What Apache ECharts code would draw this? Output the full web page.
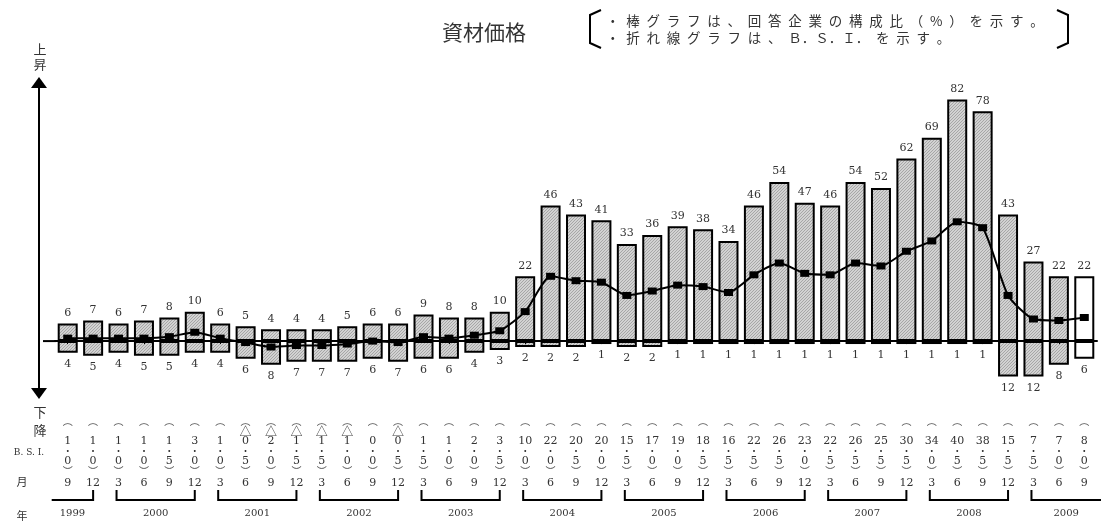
<!DOCTYPE html>
<html>
<head>
<meta charset="utf-8">
<script src="https://cdn.jsdelivr.net/npm/echarts@6/dist/echarts.min.js"></script>
<style>
html, body { margin: 0; padding: 0; background: #fff; }
#main { width: 1101px; height: 521px; }
</style>
</head>
<body>
<div id="main"></div>
<script>
// 調査時点（年・月）
const years = [1999, 1999,
	2000, 2000, 2000, 2000,
	2001, 2001, 2001, 2001,
	2002, 2002, 2002, 2002,
	2003, 2003, 2003, 2003,
	2004, 2004, 2004, 2004,
	2005, 2005, 2005, 2005,
	2006, 2006, 2006, 2006,
	2007, 2007, 2007, 2007,
	2008, 2008, 2008, 2008,
	2009, 2009, 2009]
const months = [9, 12,
	3, 6, 9, 12, 3, 6, 9, 12, 3, 6, 9, 12, 3, 6, 9, 12,
	3, 6, 9, 12, 3, 6, 9, 12, 3, 6, 9, 12, 3, 6, 9, 12,
	3, 6, 9, 12,
	3, 6, 9]
// 上昇（%）
const upper = [6, 7, 6, 7, 8, 10, 6, 5, 4, 4, 4, 5, 6, 6, 9, 8, 8, 10,
	22, 46, 43, 41, 33, 36, 39, 38, 34, 46, 54, 47, 46, 54, 52, 62,
	69, 82, 78, 43, 27, 22, 22]
// 下降（%）
const lower = [4, 5, 4, 5, 5, 4, 4, 6, 8, 7, 7, 7, 6, 7, 6, 6, 4, 3,
	2, 2, 2, 1, 2, 2, 1, 1, 1, 1, 1, 1, 1, 1, 1, 1,
	1, 1, 1, 12, 12, 8, 6]
// B.S.I.
const bsi = [1.0, 1.0, 1.0, 1.0, 1.5, 3.0, 1.0, -0.5, -2.0, -1.5,
	-1.5, -1.0, 0.0, -0.5, 1.5, 1.0, 2.0, 3.5,
	10.0, 22.0, 20.5, 20.0, 15.5, 17.0, 19.0, 18.5,
	16.5, 22.5, 26.5, 23.0, 22.5, 26.5, 25.5, 30.5,
	34.0, 40.5, 38.5, 15.5, 7.5, 7.0, 8.0]
// 見通し（最終期）
const forecastIndex = 40

const categories = years.map((y, i) => y + "/" + months[i])

const chart = echarts.init(document.getElementById("main"))

// 斜線ハッチ
const hatch = document.createElement("canvas")
hatch.width = 3
hatch.height = 3
const g = hatch.getContext("2d")
g.fillStyle = "#d2d2d2"
g.fillRect(0, 0, 3, 3)
g.fillStyle = "#a6a6a6"
g.fillRect(2, 0, 1, 1)
g.fillRect(1, 1, 1, 1)
g.fillRect(0, 2, 1, 1)
const hatchFill = { image: hatch, repeat: "repeat" }

const NUM_FONT = "DejaVu Serif"
const JP_FONT = "Noto Sans CJK JP"

// 字間をあける
const spaced = (s) => s.split("").join("\u2002")

// 年ごとの括弧
const yearGroups = []
years.forEach((y, i) => {
	const last = yearGroups[yearGroups.length - 1]
	if (last && last[2] === y) {
		last[1] = i
	} else {
		yearGroups.push([i, i, y])
	}
})
yearGroups.forEach((grp) => {
	grp.push(months[grp[0]] !== 3 ? 1 : 0)
	grp.push(months[grp[1]] !== 12 ? 1 : 0)
})

const barStyle = (i) => ({
	color: i === forecastIndex ? "#fff" : hatchFill,
	borderColor: "#000",
	borderWidth: 2
})

const tableLabel = (value, idx) => {
	const v = bsi[idx]
	const a = Math.abs(v)
	const ip = Math.floor(a + 1e-9)
	const dp = Math.round((a - ip) * 10)
	return [
		"{p|︵}",
		v < 0 ? "{t|△}" : "{t| }",
		"{n|" + ip + "}",
		"{d|・}",
		"{n|" + dp + "}",
		"{p|︶}",
		"{m|" + months[idx] + "}"
	].join("\n")
}

const option = {
	backgroundColor: "#fff",
	animation: false,
	grid: {
		left: 55,
		right: 4,
		top: 76,
		bottom: 121
	},
	xAxis: [
		{
			type: "category",
			data: categories,
			position: "bottom",
			axisLine: { show: false, onZero: false },
			axisTick: { show: false },
			axisLabel: {
				interval: 0,
				margin: 16,
				formatter: tableLabel,
				rich: {
					p: { fontFamily: JP_FONT, fontSize: 10, lineHeight: 10, color: "#555" },
					t: { fontFamily: JP_FONT, fontSize: 12, lineHeight: 10, color: "#444" },
					n: { fontFamily: NUM_FONT, fontSize: 11, lineHeight: 10, color: "#333" },
					d: { fontFamily: JP_FONT, fontSize: 9, lineHeight: 10, color: "#333" },
					m: { fontFamily: NUM_FONT, fontSize: 11, lineHeight: 14, color: "#333" }
				}
			}
		},
		{
			type: "category",
			data: categories,
			z: 5,
			axisLine: { show: true, onZero: true, lineStyle: { color: "#000", width: 2 } },
			axisTick: { show: true, inside: true, length: 3, alignWithLabel: true, lineStyle: { color: "#000", width: 1 } },
			axisLabel: { show: false }
		}
	],
	yAxis: {
		type: "value",
		min: -20,
		max: 90,
		show: false,
		splitLine: { show: false }
	},
	series: [
		{
			name: "上昇",
			type: "bar",
			stack: "s",
			barWidth: 20,
			data: upper.map((v, i) => ({ value: v, itemStyle: barStyle(i) })),
			label: {
				show: true,
				position: "top",
				distance: 5,
				fontFamily: NUM_FONT,
				fontSize: 11,
				color: "#333"
			}
		},
		{
			name: "下降",
			type: "bar",
			stack: "s",
			barWidth: 20,
			data: lower.map((v, i) => ({ value: -v, itemStyle: barStyle(i) })),
			label: {
				show: true,
				position: "bottom",
				distance: 6,
				fontFamily: NUM_FONT,
				fontSize: 11,
				color: "#333",
				formatter: (p) => Math.abs(p.value)
			}
		},
		{
			name: "B.S.I.",
			type: "line",
			z: 6,
			data: bsi,
			smooth: 0.2,
			symbol: "rect",
			symbolSize: [9, 7],
			itemStyle: { color: "#000" },
			lineStyle: { color: "#000", width: 2 }
		},
		{
			name: "年",
			type: "custom",
			clip: false,
			silent: true,
			data: yearGroups,
			renderItem: (params, api) => {
				const s = api.value(0)
				const e = api.value(1)
				const band = api.size([1, 0])[0]
				let x0 = api.coord([s, 0])[0] - 2
				let x1 = api.coord([e, 0])[0]
				const openL = api.value(3)
				const openR = api.value(4)
				if (openL) x0 = api.coord([s, 0])[0] - band * 0.63
				if (openR) x1 = params.coordSys.x + params.coordSys.width + 4
				const y = 500
				const pts = []
				if (!openL) pts.push([x0, y - 10])
				pts.push([x0, y], [x1, y])
				if (!openR) pts.push([x1, y - 10])
				return {
					type: "group",
					children: [
						{
							type: "polyline",
							shape: { points: pts },
							style: { stroke: "#000", lineWidth: 2, fill: null }
						},
						{
							type: "text",
							style: {
								text: String(api.value(2)),
								x: (x0 + x1) / 2,
								y: 513,
								align: "center",
								verticalAlign: "middle",
								fontFamily: NUM_FONT,
								fontSize: 10,
								fill: "#333"
							}
						}
					]
				}
			}
		}
	],
	graphic: [
		{
			type: "text",
			left: 442,
			top: 22,
			style: { text: "資材価格", fontFamily: JP_FONT, fontSize: 21, fill: "#333" }
		},
		{
			type: "polyline",
			shape: { points: [[601, 10], [590, 15], [590, 43], [601, 48]] },
			style: { stroke: "#000", lineWidth: 2, fill: null }
		},
		{
			type: "polyline",
			shape: { points: [[1057, 10], [1068, 15], [1068, 43], [1057, 48]] },
			style: { stroke: "#000", lineWidth: 2, fill: null }
		},
		{
			type: "text",
			left: 606,
			top: 12,
			style: {
				text: spaced("・棒グラフは、回答企業の構成比（%）を示す。") + "\n" +
					spaced("・折れ線グラフは、") + "\u2002Ｂ．Ｓ．Ｉ．\u2002" + spaced("を示す。"),
				fontFamily: JP_FONT,
				fontSize: 13.5,
				lineHeight: 17,
				fill: "#333"
			}
		},
		{
			type: "text",
			x: 40,
			y: 49,
			style: { text: "上", fontFamily: JP_FONT, fontSize: 13, fill: "#333", align: "center", verticalAlign: "middle" }
		},
		{
			type: "text",
			x: 40,
			y: 64,
			style: { text: "昇", fontFamily: JP_FONT, fontSize: 13, fill: "#333", align: "center", verticalAlign: "middle" }
		},
		{
			type: "line",
			shape: { x1: 39, y1: 86, x2: 39, y2: 390 },
			style: { stroke: "#000", lineWidth: 2 }
		},
		{
			type: "polygon",
			shape: { points: [[39, 77], [31, 88], [47, 88]] },
			style: { fill: "#000" }
		},
		{
			type: "polygon",
			shape: { points: [[39, 399], [31, 388], [47, 388]] },
			style: { fill: "#000" }
		},
		{
			type: "text",
			x: 40,
			y: 412,
			style: { text: "下", fontFamily: JP_FONT, fontSize: 13, fill: "#333", align: "center", verticalAlign: "middle" }
		},
		{
			type: "text",
			x: 40,
			y: 430,
			style: { text: "降", fontFamily: JP_FONT, fontSize: 13, fill: "#333", align: "center", verticalAlign: "middle" }
		},
		{
			type: "text",
			x: 29,
			y: 453,
			style: { text: "B. S. I.", fontFamily: NUM_FONT, fontSize: 9, fill: "#333", align: "center", verticalAlign: "middle" }
		},
		{
			type: "text",
			x: 22,
			y: 482,
			style: { text: "月", fontFamily: JP_FONT, fontSize: 11, fill: "#333", align: "center", verticalAlign: "middle" }
		},
		{
			type: "text",
			x: 22,
			y: 516,
			style: { text: "年", fontFamily: JP_FONT, fontSize: 11, fill: "#333", align: "center", verticalAlign: "middle" }
		}
	]
}
chart.setOption(option)

// 0 の基準線を左端まで延ばす
const zeroY = chart.convertToPixel({ yAxisIndex: 0 }, 0)
chart.setOption({
	graphic: [
		{
			id: "zeroExt",
			type: "line",
			z: 10,
			shape: { x1: 43, y1: zeroY, x2: 56, y2: zeroY },
			style: { stroke: "#000", lineWidth: 2 }
		}
	]
})
</script>
</body>
</html>
